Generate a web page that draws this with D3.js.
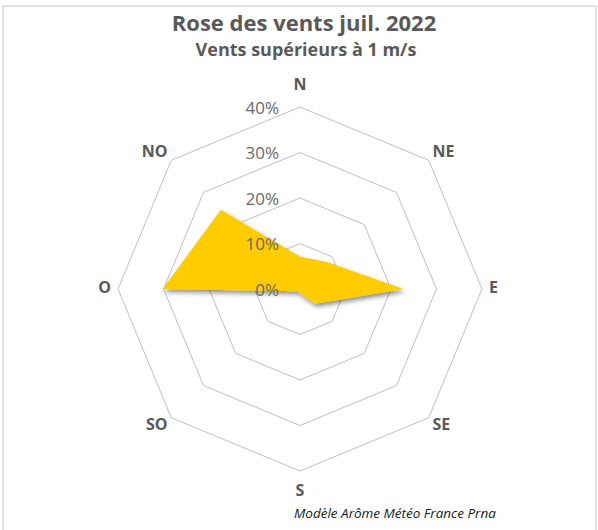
<!DOCTYPE html>
<html>
<head>
<meta charset="utf-8">
<script src="https://cdn.jsdelivr.net/npm/d3@7"></script>
<style>
  body { margin: 0; background: #fff; }
  svg { display: block; font-family: "Open Sans", "DejaVu Sans", sans-serif; }
</style>
</head>
<body>
<svg id="chart" width="598" height="530"></svg>
<script>
// wind rose, july 2022 (% of time, winds > 1 m/s)
const directions = ['N', 'NE', 'E', 'SE', 'S', 'SO', 'O', 'NO'];
const frequencies = [7.1, 8.4, 22.7, 4.6, 1.0, 0.7, 30.2, 24.6];
const tickValues = [0, 10, 20, 30, 40];

const svg = d3.select('#chart');
const cx = 300, cy = 289;
const grey = '#595959';

// chart frame
svg.append('rect')
  .attr('x', 3).attr('y', 6).attr('width', 593).attr('height', 540)
  .attr('fill', '#fff').attr('stroke', '#d9d9d9').attr('stroke-width', 1.5);

const defs = svg.append('defs');
defs.append('filter').attr('id', 'shadow')
  .attr('x', '-20%').attr('y', '-20%').attr('width', '140%').attr('height', '140%')
  .append('feDropShadow')
  .attr('dx', 2).attr('dy', 3).attr('stdDeviation', 2.5)
  .attr('flood-color', '#000').attr('flood-opacity', 0.45);

const r = d3.scaleLinear().domain([0, 40]).range([0, 182]);
const angle = d3.scaleLinear().domain([0, directions.length]).range([0, 2 * Math.PI]);

const g = svg.append('g').attr('transform', `translate(${cx},${cy})`);

// octagonal grid rings
const ring = d3.lineRadial().angle((d, i) => angle(i)).radius(d => r(d)).curve(d3.curveLinearClosed);
g.selectAll('.ring').data(tickValues.filter(t => t > 0)).enter().append('path')
  .attr('class', 'ring')
  .attr('d', t => ring(directions.map(() => t)))
  .attr('fill', 'none').attr('stroke', '#bfbfbf').attr('stroke-width', 1);

// series
g.append('path')
  .datum(frequencies)
  .attr('d', ring)
  .attr('fill', '#ffcc00')
  .attr('filter', 'url(#shadow)');

// tick labels
g.selectAll('.tick').data(tickValues).enter().append('text')
  .attr('x', -21).attr('y', t => -r(t) + 2)
  .attr('text-anchor', 'end').attr('dominant-baseline', 'middle')
  .attr('font-size', 17).attr('fill', '#6a6a6a')
  .text(t => t + '%');

// direction labels
const lr = 193;
g.selectAll('.dir').data(directions).enter().append('text')
  .attr('x', (d, i) => {
    const s = Math.sin(angle(i));
    return Math.abs(s) < 1e-6 ? 0 : lr * s + (s > 0 ? -4 : 4);
  })
  .attr('y', (d, i) => {
    const c = Math.cos(angle(i));
    return -lr * c - (Math.abs(c) > 0.99 ? 10 * Math.sign(c) : 0);
  })
  .attr('text-anchor', (d, i) => {
    const s = Math.sin(angle(i));
    return Math.abs(s) < 1e-6 ? 'middle' : (s > 0 ? 'start' : 'end');
  })
  .attr('dominant-baseline', 'middle')
  .attr('font-size', 16).attr('font-weight', 'bold').attr('fill', grey)
  .text(d => d);

// titles
svg.append('text')
  .attr('x', 304).attr('y', 31)
  .attr('text-anchor', 'middle')
  .attr('font-size', 22).attr('font-weight', 'bold').attr('fill', grey)
  .text('Rose des vents juil. 2022');
svg.append('text')
  .attr('x', 306).attr('y', 56)
  .attr('text-anchor', 'middle')
  .attr('font-size', 18).attr('font-weight', 'bold').attr('fill', grey)
  .text('Vents supérieurs à 1 m/s');

svg.append('text')
  .attr('x', 294).attr('y', 518)
  .attr('font-size', 13.5).attr('font-style', 'italic').attr('fill', '#1a1a1a')
  .text('Modèle Arôme Météo France Prna');
</script>
</body>
</html>
